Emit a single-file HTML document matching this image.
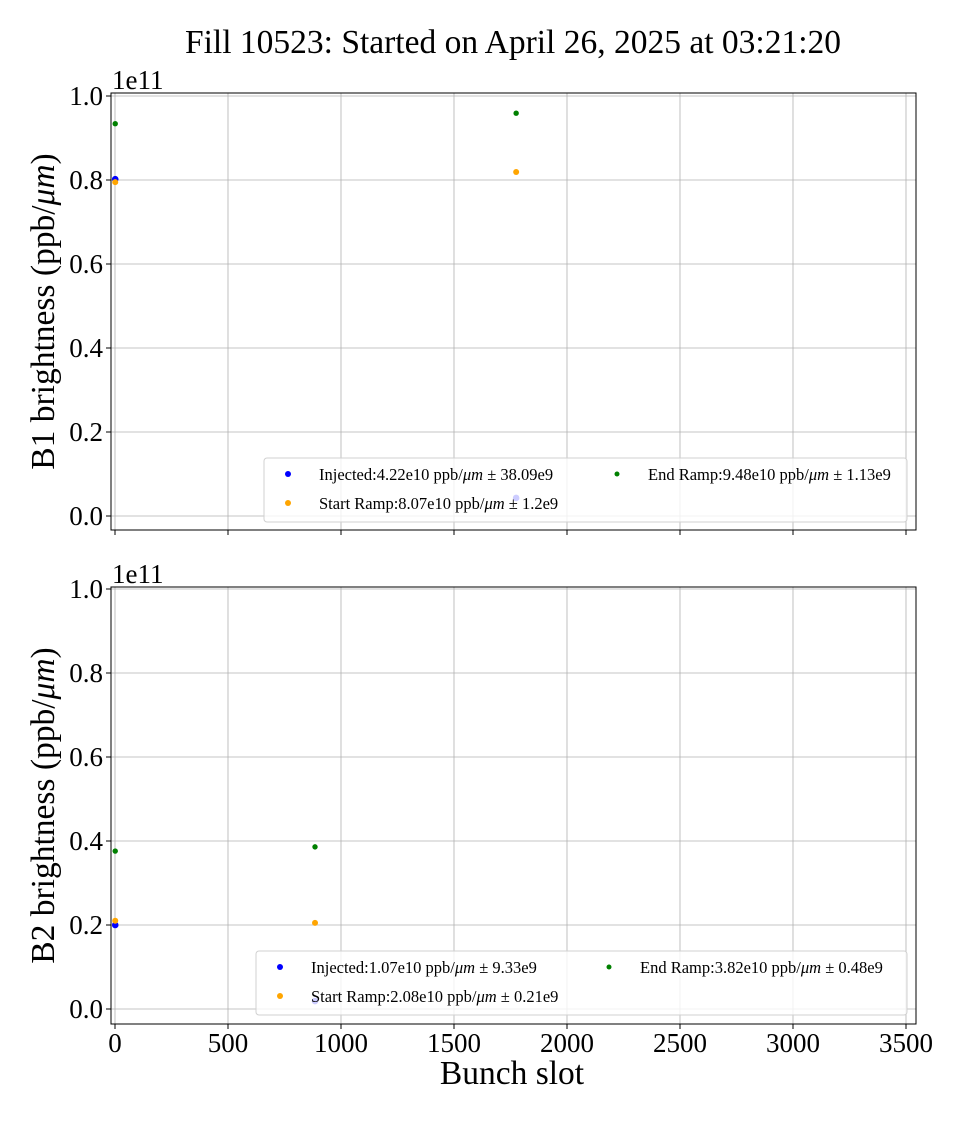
<!DOCTYPE html>
<html><head><meta charset="utf-8"><style>
body{margin:0;background:#fff}
svg text{font-family:"Liberation Serif","DejaVu Serif",serif}
</style></head><body>
<svg id="c" width="960" height="1120" xmlns="http://www.w3.org/2000/svg">
<text x="513" y="53" font-size="33.5" text-anchor="middle">Fill 10523: Started on April 26, 2025 at 03:21:20</text>
</svg>
<script>
const xTicks=[0,500,1000,1500,2000,2500,3000,3500];
const yTicks=[0,0.2,0.4,0.6,0.8,1.0];
const b1Slots=[1,1775];
const b1Injected=[0.802,0.043];
const b1StartRamp=[0.795,0.819];
const b1EndRamp=[0.934,0.959];
const b2Slots=[1,885];
const b2Injected=[0.200,0.019];
const b2StartRamp=[0.210,0.205];
const b2EndRamp=[0.376,0.386];
const b1Legend=["Injected:4.22e10 ppb/","Start Ramp:8.07e10 ppb/","End Ramp:9.48e10 ppb/"];
const b1Err=["38.09e9","1.2e9","1.13e9"];
const b2Legend=["Injected:1.07e10 ppb/","Start Ramp:2.08e10 ppb/","End Ramp:3.82e10 ppb/"];
const b2Err=["9.33e9","0.21e9","0.48e9"];
const svg=document.getElementById('c');
const NS='http://www.w3.org/2000/svg';
function mk(t,a,p){const e=document.createElementNS(NS,t);for(const k in a)e.setAttribute(k,a[k]);(p||svg).appendChild(e);return e;}
const L=111,R=916;
const sx=v=>115+v*0.226;
function panel(name,top,bottom,y0,slots,inj,sr,er,leg,err,lx,ly,lw,ylabel,showX){
  const sy=v=>y0-v*420;
  const g=mk('g',{});
  
  
  xTicks.forEach(t=>{const l=mk('line',{x1:sx(t),x2:sx(t),y1:top,y2:bottom,stroke:'#b0b0b0','stroke-width':0.8},g);
    
    const tk=mk('line',{x1:sx(t),x2:sx(t),y1:bottom,y2:bottom+5,stroke:'#000'},g);
    
    if(showX){const tx=mk('text',{x:sx(t),y:bottom+28,'font-size':27,'text-anchor':'middle'},g);tx.textContent=t;
      }
  });
  yTicks.forEach(t=>{const l=mk('line',{x1:L,x2:R,y1:sy(t),y2:sy(t),stroke:'#b0b0b0','stroke-width':0.8},g);
    
    mk('line',{x1:L-5,x2:L,y1:sy(t),y2:sy(t),stroke:'#000'},g);
    const tx=mk('text',{x:L-8,y:sy(t)+9,'font-size':27,'text-anchor':'end'},g);tx.textContent=t.toFixed(1);
    
  });
  const f=mk('rect',{x:L,y:top,width:R-L,height:bottom-top,fill:'none',stroke:'#000','stroke-width':1},g);
  
  const ex=mk('text',{x:112,y:top-4,'font-size':27},g);ex.textContent='1e11';
  
  const yl=mk('text',{transform:`translate(54,${(top+bottom)/2}) rotate(-90)`,'font-size':33.5,'text-anchor':'middle'},g);
  yl.innerHTML=ylabel+' brightness (ppb/<tspan font-style="italic">μm</tspan>)';
  
  [[inj,'#0000ff',3.3],[sr,'#ffa500',3],[er,'#008000',2.7]].forEach(([arr,c,r])=>{
    arr.forEach((v,i)=>{const p=mk('circle',{cx:sx(slots[i]),cy:sy(v),r:r,fill:c},g);
      });
  });
  const lg=mk('rect',{x:lx,y:ly,width:lw,height:64,rx:3,fill:'#fff','fill-opacity':0.8,stroke:'#d0d0d0'},g);
  
  const cols=['#0000ff','#ffa500','#008000'];
  const pos=[[lx+24,ly+16],[lx+24,ly+45],[lx+353,ly+16]];
  pos.forEach((p,i)=>{const m=mk('circle',{cx:p[0],cy:p[1],r:i==2?2.5:3,fill:cols[i]},g);
    
    const t=mk('text',{x:p[0]+31,y:p[1]+6,'font-size':16.5},g);
    t.innerHTML=leg[i]+'<tspan font-style="italic">μm</tspan> ±  '+err[i];
    t.setAttribute('xml:space','preserve');
    });
}
panel('b1-panel',93,530,516,b1Slots,b1Injected,b1StartRamp,b1EndRamp,b1Legend,b1Err,264,458,643,'B1',false);
panel('b2-panel',587,1024,1009,b2Slots,b2Injected,b2StartRamp,b2EndRamp,b2Legend,b2Err,256,951,651,'B2',true);
const xl=mk('text',{x:512,y:1084,'font-size':33.5,'text-anchor':'middle'});xl.textContent='Bunch slot';


</script>
</body></html>
